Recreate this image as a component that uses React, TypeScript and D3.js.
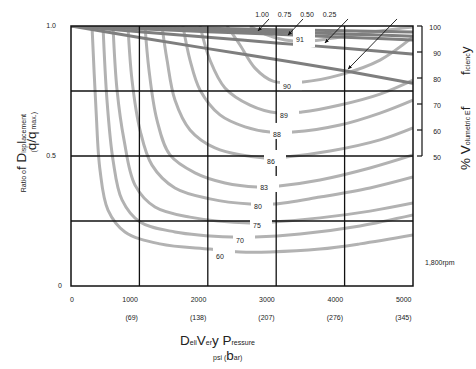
import React from "react";
import * as d3 from "d3";

const W = 476;
const H = 369;

// axes
const psiTicks = [0, 1000, 2000, 3000, 4000, 5000];
const barTickLabels = ["", "(69)", "(138)", "(207)", "(276)", "(345)"];
const ratioTicks = [0, 0.5, 1.0];
const ratioTickLabels = ["0", "0.5", "1.0"];
const ratioGrid = [0.25, 0.5, 0.75];
const effTicks = [100, 90, 80, 70, 60, 50];

// overall efficiency contours (psi, ratio q/qmax)
const contourLevels = [60, 70, 75, 80, 83, 86, 88, 89, 90, 91];
const c60Psi = [307, 366, 424, 541, 789, 1301, 2032, 2471, 2909, 3640, 4225, 5000];
const c60Ratio = [1.0, 0.677, 0.446, 0.292, 0.208, 0.162, 0.142, 0.131, 0.131, 0.142, 0.162, 0.196];
const c70Psi = [468, 526, 614, 746, 1009, 1520, 2354, 2690, 3348, 4225, 5000];
const c70Ratio = [1.0, 0.715, 0.485, 0.331, 0.246, 0.208, 0.188, 0.188, 0.2, 0.231, 0.273];
const c75Psi = [614, 673, 775, 936, 1228, 1740, 2617, 2953, 3640, 4371, 5000];
const c75Ratio = [1.0, 0.754, 0.562, 0.388, 0.304, 0.265, 0.242, 0.246, 0.262, 0.288, 0.319];
const c80Psi = [833, 892, 1009, 1184, 1520, 2032, 2617, 2968, 3640, 4371, 5000];
const c80Ratio = [1.0, 0.792, 0.6, 0.465, 0.377, 0.335, 0.315, 0.315, 0.342, 0.377, 0.419];
const c83Psi = [1082, 1140, 1257, 1447, 1813, 2251, 2719, 3041, 3640, 4371, 5000];
const c83Ratio = [1.0, 0.831, 0.638, 0.504, 0.435, 0.396, 0.381, 0.385, 0.408, 0.454, 0.504];
const c86Psi = [1330, 1404, 1520, 1740, 2105, 2836, 3143, 3787, 4518, 5000];
const c86Ratio = [1.0, 0.869, 0.715, 0.6, 0.531, 0.492, 0.496, 0.519, 0.562, 0.608];
const c88Psi = [1637, 1740, 1886, 2178, 2544, 2909, 3246, 3933, 4518, 5000];
const c88Ratio = [1.0, 0.869, 0.754, 0.658, 0.612, 0.592, 0.592, 0.619, 0.665, 0.715];
const c89Psi = [1886, 2032, 2251, 2617, 3026, 3377, 3933, 4518, 5000];
const c89Ratio = [1.0, 0.869, 0.762, 0.696, 0.665, 0.669, 0.696, 0.738, 0.792];
const c90Psi = [2281, 2471, 2690, 2953, 3392, 3933, 4518, 5000];
const c90Ratio = [1.0, 0.927, 0.838, 0.788, 0.785, 0.812, 0.869, 0.958];
const c91Psi = [2617, 2836, 3129, 3494, 3933, 4518, 5000];
const c91Ratio = [1.0, 0.969, 0.946, 0.942, 0.958, 0.981, 0.996];

const contourPsi = [c60Psi, c70Psi, c75Psi, c80Psi, c83Psi, c86Psi, c88Psi, c89Psi, c90Psi, c91Psi];
const contourRatio = [c60Ratio, c70Ratio, c75Ratio, c80Ratio, c83Ratio, c86Ratio, c88Ratio, c89Ratio, c90Ratio, c91Ratio];

// contour label positions
const labelPsi = [2178, 2471, 2719, 2734, 2822, 2924, 3012, 3114, 3158, 3348];
const labelRatio = [0.115, 0.173, 0.231, 0.304, 0.377, 0.477, 0.581, 0.654, 0.769, 0.946];

// volumetric efficiency lines (%), vs psi
const volPsi = [0, 1000, 2000, 3000, 4000, 5000];
const vol1 = [100, 99.5, 99.1, 98.6, 98.2, 97.7];
const vol2 = [100, 99.2, 98.4, 97.7, 96.9, 96.1];
const vol3 = [100, 98.9, 97.8, 96.8, 95.7, 94.6];
const vol4 = [100, 97.8, 95.7, 93.5, 91.4, 89.2];
const vol5 = [100, 95.6, 91.3, 87.1, 82.8, 78.0];
const volLines = [vol1, vol2, vol3, vol4, vol5];

const ratioLabels = ["1.00", "0.75", "0.50", "0.25"];
// arrows: start (psi, eff) -> end (psi, eff)
const arrowFromPsi = [2895, 3392, 4050, 4766];
const arrowToPsi = [2734, 3173, 3713, 4050];
const arrowFromEff = [102.7, 102.7, 102.7, 102.7];
const arrowToEff = [98.1, 96.5, 93.5, 83.4];

const FONT = "'Liberation Sans', Arial, Helvetica, sans-serif";

export default function App() {
  const x = d3.scaleLinear().domain([0, 5000]).range([71, 413]);
  const y = d3.scaleLinear().domain([0, 1]).range([286, 26]);
  const yEff = d3.scaleLinear().domain([50, 100]).range([y(0.5), y(1.0)]);

  const line = d3
    .line<[number, number]>()
    .x((d) => x(d[0]))
    .y((d) => y(d[1]))
    .curve(d3.curveCatmullRom.alpha(0.5));

  const vline = d3
    .line<[number, number]>()
    .x((d) => x(d[0]))
    .y((d) => yEff(d[1]))
    .curve(d3.curveMonotoneX);

  const small = 7;
  const big = 13.5;
  const textCol = "#222";

  return (
    <svg
      width={W}
      height={H}
      style={{ position: "absolute", left: 0, top: 0, background: "#fff" }}
      fontFamily={FONT}
    >
      <defs>
        <clipPath id="plot">
          <rect x={x(0)} y={y(1)} width={x(5000) - x(0)} height={y(0) - y(1)} />
        </clipPath>
        <marker id="arrow" viewBox="0 0 10 10" refX="9" refY="5" markerWidth="5" markerHeight="5" orient="auto">
          <path d="M0,1 L10,5 L0,9 Z" fill="#111" />
        </marker>
      </defs>

      <g clipPath="url(#plot)">
        {contourLevels.map((lv, i) => (
          <path
            key={lv}
            d={line(contourPsi[i].map((p, j) => [p, contourRatio[i][j]] as [number, number])) || ""}
            fill="none"
            stroke="#b2b2b2"
            strokeWidth={3}
          />
        ))}
        {volLines.map((vals, i) => (
          <path
            key={i}
            d={vline(volPsi.map((p, j) => [p, vals[j]] as [number, number])) || ""}
            fill="none"
            stroke="#7e7e7e"
            strokeWidth={3}
          />
        ))}
      </g>

      {/* grid */}
      {psiTicks.slice(1, -1).map((t) => (
        <line key={t} x1={x(t)} x2={x(t)} y1={y(0)} y2={y(1)} stroke="#111" strokeWidth={1.3} />
      ))}
      {ratioGrid.map((t) => (
        <line key={t} x1={x(0)} x2={x(5000)} y1={y(t)} y2={y(t)} stroke="#111" strokeWidth={1.3} />
      ))}
      <rect x={x(0)} y={y(1)} width={x(5000) - x(0)} height={y(0) - y(1)} fill="none" stroke="#111" strokeWidth={1.5} />

      {/* contour labels with white knock-outs */}
      {contourLevels.map((lv, i) => {
        const lx = x(labelPsi[i]);
        const ly = y(labelRatio[i]);
        return (
          <g key={lv}>
            <rect x={lx - 7} y={ly - 12} width={22} height={lv === 91 ? 19 : 16} fill="#fff" />
            <text x={lx} y={ly} dy="0.35em" textAnchor="middle" fontSize={7} fill={textCol}>
              {lv}
            </text>
          </g>
        );
      })}

      {/* ratio labels and arrows */}
      {ratioLabels.map((t, i) => (
        <text key={t} x={262 + i * 22.5} y={17} textAnchor="middle" fontSize={7} fill={textCol}>
          {t}
        </text>
      ))}
      {arrowFromPsi.map((p, i) => (
        <line
          key={i}
          x1={x(p)}
          y1={yEff(arrowFromEff[i])}
          x2={x(arrowToPsi[i])}
          y2={yEff(arrowToEff[i])}
          stroke="#111"
          strokeWidth={0.9}
          markerEnd="url(#arrow)"
        />
      ))}

      {/* left ticks */}
      {ratioTicks.map((t, i) => (
        <text
          key={t}
          x={t === 0 ? 62 : 56}
          y={y(t)}
          dy="0.35em"
          textAnchor="end"
          fontSize={7}
          fill={textCol}
        >
          {ratioTickLabels[i]}
        </text>
      ))}

      {/* bottom ticks */}
      {psiTicks.map((t, i) => (
        <g key={t}>
          <text
            x={t === 0 ? x(t) - 1 : x(t) - 1.5}
            y={302}
            textAnchor={t === 0 ? "start" : "end"}
            fontSize={7}
            fill={textCol}
          >
            {t}
          </text>
          {barTickLabels[i] && (
            <text x={x(t) - 1.5} y={320} textAnchor="end" fontSize={7} fill={textCol}>
              {barTickLabels[i]}
            </text>
          )}
        </g>
      ))}

      {/* right axis */}
      <line x1={422} x2={422} y1={yEff(100)} y2={yEff(50)} stroke="#111" strokeWidth={1.2} />
      {effTicks.map((t) => (
        <g key={t}>
          <line x1={417} x2={422} y1={yEff(t)} y2={yEff(t)} stroke="#111" strokeWidth={1.2} />
          <text x={441} y={yEff(t) + 2} dy="0.35em" textAnchor="end" fontSize={7} fill={textCol}>
            {t}
          </text>
        </g>
      ))}
      <text x={425} y={265} fontSize={7} fill={textCol}>
        1,800rpm
      </text>

      {/* left title */}
      <text transform="translate(26,114) rotate(-90)" textAnchor="end" fill={textCol}>
        <tspan fontSize={small}>Ratio o</tspan>
        <tspan fontSize={big}>f D</tspan>
        <tspan fontSize={small}>isp</tspan>
        <tspan fontSize={big}>l</tspan>
        <tspan fontSize={small}>acement</tspan>
      </text>
      <text transform="translate(36,112) rotate(-90)" textAnchor="end" fill={textCol}>
        <tspan fontSize={small}>(</tspan>
        <tspan fontSize={big}>q/q</tspan>
        <tspan fontSize={small}> max.)</tspan>
      </text>

      {/* right title */}
      <text transform="translate(470,170) rotate(-90)" textAnchor="start" fill={textCol}>
        <tspan fontSize={big}>% V</tspan>
        <tspan fontSize={small}>olumetric E</tspan>
        <tspan fontSize={big}>f</tspan>
      </text>
      <text transform="translate(470,75) rotate(-90)" textAnchor="start" fill={textCol}>
        <tspan fontSize={big}>f</tspan>
        <tspan fontSize={small}>icienc</tspan>
        <tspan fontSize={big}>y</tspan>
      </text>

      {/* bottom title */}
      <text x={180} y={345} fill={textCol}>
        <tspan fontSize={big}>D</tspan>
        <tspan fontSize={small}>eli</tspan>
        <tspan fontSize={big}>V</tspan>
        <tspan fontSize={small}>er</tspan>
        <tspan fontSize={big}>y P</tspan>
        <tspan fontSize={small}>ressure</tspan>
      </text>
      <text x={213} y={360} fill={textCol}>
        <tspan fontSize={small}>psi (</tspan>
        <tspan fontSize={big}>b</tspan>
        <tspan fontSize={small}>ar)</tspan>
      </text>
    </svg>
  );
}
